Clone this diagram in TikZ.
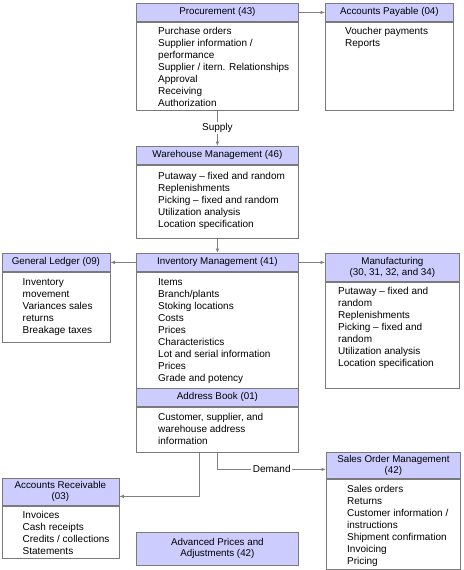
\documentclass[tikz,border=0pt]{standalone}
\usepackage{fontspec}
\setmainfont{Liberation Sans}
\usetikzlibrary{arrows.meta}
\definecolor{hdrfill}{HTML}{CCCCFF}
\definecolor{bord}{HTML}{7A7A7A}
\definecolor{linegray}{HTML}{808080}
\newcommand{\hdrfont}{\fontsize{9.8}{11}\selectfont}
\newcommand{\bodyfont}{\fontsize{10}{12}\selectfont}
\tikzset{
  hdr/.style={draw=bord, fill=hdrfill, line width=0.8pt, inner sep=0pt, align=center, font=\hdrfont, anchor=north west},
  bodybox/.style={draw=bord, fill=white, line width=0.8pt, inner sep=0pt, anchor=north},
  btext/.style={inner sep=0pt, align=left, anchor=north west, font=\bodyfont},
  conn/.style={draw=linegray, line width=0.7pt, -{Latex[length=4.5pt,width=3.5pt]}},
  lbl/.style={fill=white, inner sep=1.5pt, font=\bodyfont},
}
\begin{document}
\begin{tikzpicture}[x=1pt,y=-1pt]
\useasboundingbox (0,0) rectangle (463,570);
% Procurement
\node[hdr, minimum width=162pt, minimum height=18pt] (proc) at (136,3) {Procurement (43)};
\node[bodybox, minimum width=162pt, minimum height=88pt] (procb) at (proc.south) {};
\node[btext] (proct) at ([xshift=22pt,yshift=-5.5pt]procb.north west) {Purchase orders\\Supplier information /\\performance\\Supplier / itern. Relationships\\Approval\\Receiving\\Authorization};
% Accounts Payable
\node[hdr, minimum width=128pt, minimum height=18pt] (ap) at (325,3) {Accounts Payable (04)};
\node[bodybox, minimum width=128pt, minimum height=88pt] (apb) at (ap.south) {};
\node[btext] (apt) at ([xshift=20pt,yshift=-5.5pt]apb.north west) {Voucher payments\\Reports};
% Warehouse
\node[hdr, minimum width=162pt, minimum height=18pt] (wh) at (136,146) {Warehouse Management (46)};
\node[bodybox, minimum width=162pt, minimum height=73pt] (whb) at (wh.south) {};
\node[btext] (wht) at ([xshift=22pt,yshift=-7pt]whb.north west) {Putaway -- fixed and random\\Replenishments\\Picking -- fixed and random\\Utilization analysis\\Location specification};
% Inventory
\node[hdr, minimum width=162pt, minimum height=18pt] (inv) at (136,253) {Inventory Management (41)};
\node[bodybox, minimum width=162pt, minimum height=117pt] (invb) at (inv.south) {};
\node[btext] (invt) at ([xshift=22pt,yshift=-7pt]invb.north west) {Items\\Branch/plants\\Stoking locations\\Costs\\Prices\\Characteristics\\Lot and serial information\\Prices\\Grade and potency};
% Address Book
\node[hdr, minimum width=162pt, minimum height=18pt] (ab) at (136,388) {Address Book (01)};
\node[bodybox, minimum width=162pt, minimum height=45pt] (abb) at (ab.south) {};
\node[btext] (abt) at ([xshift=22pt,yshift=-6.5pt]abb.north west) {Customer, supplier, and\\warehouse address\\information};
% General Ledger
\node[hdr, minimum width=108pt, minimum height=18pt] (gl) at (1.5,253) {General Ledger (09)};
\node[bodybox, minimum width=108pt, minimum height=70pt] (glb) at (gl.south) {};
\node[btext] (glt) at ([xshift=21pt,yshift=-7pt]glb.north west) {Inventory\\movement\\Variances sales\\returns\\Breakage taxes};
% Manufacturing
\node[hdr, minimum width=134pt, minimum height=28pt] (mfg) at (325,253) {Manufacturing\\(30, 31, 32, and 34)};
\node[bodybox, minimum width=134pt, minimum height=106pt] (mfgb) at (mfg.south) {};
\node[btext] (mfgt) at ([xshift=13pt,yshift=-5pt]mfgb.north west) {Putaway -- fixed and\\random\\Replenishments\\Picking -- fixed and\\random\\Utilization analysis\\Location specification};
% Sales Order Management
\node[hdr, minimum width=134pt, minimum height=26pt] (sales) at (326,452) {Sales Order Management\\(42)};
\node[bodybox, minimum width=134pt, minimum height=90pt] (salesb) at (sales.south) {};
\node[btext] (salest) at ([xshift=21pt,yshift=-6pt]salesb.north west) {Sales orders\\Returns\\Customer information /\\instructions\\Shipment confirmation\\Invoicing\\Pricing};
% Accounts Receivable
\node[hdr, minimum width=117pt, minimum height=27pt] (ar) at (1.5,478) {Accounts Receivable\\(03)};
\node[bodybox, minimum width=117pt, minimum height=52pt] (arb) at (ar.south) {};
\node[btext] (art) at ([xshift=21pt,yshift=-5.5pt]arb.north west) {Invoices\\Cash receipts\\Credits / collections\\Statements};
% Advanced Prices
\node[hdr, minimum width=162pt, minimum height=33pt] (adv) at (136,532) {Advanced Prices and\\Adjustments (42)};
% Connectors
\draw[conn] (proc.east) -- (ap.west);
\draw[conn] (procb.south) -- node[lbl] {Supply} (wh.north);
\draw[conn] (whb.south) -- (inv.north);
\draw[conn] (inv.west) -- (gl.east);
\draw[conn] (inv.east) -- (mfg.west |- inv.east);
\draw[conn] (abb.south) |- node[lbl, pos=0.75] {Demand} ([yshift=-4pt]sales.west);
\draw[conn] ([xshift=-18pt]abb.south) |- ([yshift=-4.5pt]ar.east);
\end{tikzpicture}
\end{document}
